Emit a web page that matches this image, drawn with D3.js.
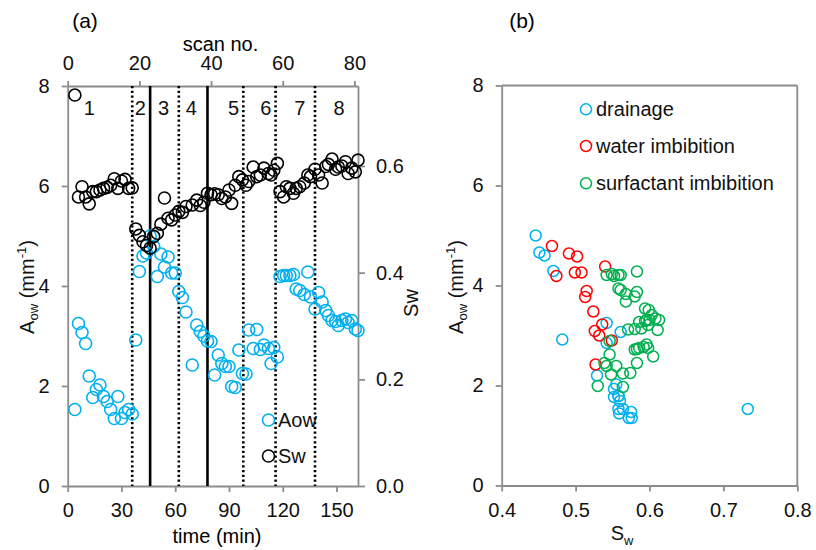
<!DOCTYPE html>
<html>
<head>
<meta charset="utf-8">
<script src="https://cdn.jsdelivr.net/npm/d3@7"></script>
<style>
  body { margin: 0; background: #fff; }
  svg { font-family: "Liberation Sans", Arial, sans-serif; }
</style>
</head>
<body>
<svg id="chart" width="816" height="550"></svg>
<script>
// Per-scan measurements: elapsed time (min), interfacial area A_ow (mm^-1), water saturation Sw
const scanTime = [
  4, 6, 8, 10, 12, 14, 16, 18, 20, 22, 24, 26, 28, 30, 32, 34, 36,
  38, 40, 42, 44, 46,
  48, 50, 52, 54, 56, 58, 60,
  62, 64, 66, 69.5, 72, 74, 76, 78,
  80, 82, 84, 86, 88, 90, 91.5, 93.5, 95.5, 97.5,
  99.5, 101, 103.5, 105.5, 107.5, 109.5, 112, 113.5, 115, 117,
  118.5, 120.5, 122, 124, 126, 127.5, 129.5, 132, 134, 135.5, 138,
  140, 142, 144, 145.5, 147.5, 149.5, 151, 153, 155, 156.5, 158.5, 160.5, 162
];
const aowValues = [
  1.53, 3.25, 3.07, 2.85, 2.20, 1.77, 1.93, 2.02, 1.79, 1.69, 1.53, 1.35, 1.79, 1.35, 1.47, 1.53, 1.44,
  2.92, 4.29, 4.60, 4.66, 5.00,
  4.79, 4.19, 4.64, 4.38, 4.58, 4.26, 4.26,
  3.89, 3.77, 3.48, 2.42, 3.22, 3.09, 3.00, 2.90,
  2.89, 2.22, 2.62, 2.45, 2.39, 2.39, 1.99, 1.97, 2.72, 2.25,
  2.24, 3.12, 2.75, 3.13, 2.73, 2.82, 2.75, 2.45, 2.77, 2.58,
  4.19, 4.21, 4.21, 4.21, 4.23, 3.94, 3.91, 3.83, 4.28, 3.78, 3.54,
  3.87, 3.68, 3.51, 3.41, 3.31, 3.29, 3.21, 3.31, 3.34, 3.27, 3.31, 3.14, 3.11
];
const swValues = [
  0.733, 0.542, 0.561, 0.542, 0.529, 0.552, 0.552, 0.555, 0.558, 0.560, 0.564, 0.576, 0.558, 0.572, 0.575, 0.558, 0.559,
  0.482, 0.470, 0.458, 0.451, 0.446,
  0.468, 0.474, 0.491, 0.540, 0.502, 0.499, 0.508,
  0.515, 0.513, 0.524, 0.527, 0.536, 0.526, 0.532, 0.549,
  0.546, 0.548, 0.546, 0.539, 0.542, 0.555, 0.530, 0.564, 0.580, 0.574,
  0.564, 0.571, 0.598, 0.580, 0.583, 0.596, 0.586, 0.583, 0.592, 0.605,
  0.552, 0.542, 0.561, 0.558, 0.549, 0.558, 0.561, 0.568, 0.583, 0.580, 0.594,
  0.583, 0.568, 0.599, 0.603, 0.613, 0.594, 0.598, 0.600, 0.608, 0.586, 0.596, 0.589, 0.611
];

// Flooding stages: drainage up to 46 min, water imbibition to 78 min, then surfactant imbibition
const phaseEnds = [46, 78, Infinity];
const phaseNames = ["drainage", "water imbibition", "surfactant imbibition"];
const phaseColors = ["#00B0F0", "#FF0000", "#00B050"];

// Stage boundaries (min) and stage numbers
const dottedTimes = [36, 62, 98, 116, 138];
const solidTimes = [46, 78];
const regionLabels = ["1", "2", "3", "4", "5", "6", "7", "8"];
const regionLabelTimes = [12, 40.5, 53.5, 69, 92.5, 110.5, 129.5, 151.5];

// Tick values
const timeTicks = [0, 30, 60, 90, 120, 150];
const scanTicks = [0, 20, 40, 60, 80];
const aowTicks = [0, 2, 4, 6, 8];
const swTicks = [0, 0.2, 0.4, 0.6];
const swScatterTicks = [0.4, 0.5, 0.6, 0.7, 0.8];

const scans = scanTime.map((t, i) => ({
  t, aow: aowValues[i], sw: swValues[i],
  phase: phaseEnds.findIndex(e => t <= e)
}));

const svg = d3.select("#chart");
const axisColor = "#8c8c8c";
const FS = 20;

function styleAxis(g) {
  g.selectAll("path").attr("stroke", axisColor).attr("stroke-width", 1.8);
  g.selectAll("line").attr("stroke", axisColor).attr("stroke-width", 1.8);
  g.selectAll("text").attr("fill", "#111").attr("font-size", FS)
    .attr("font-family", "'Liberation Sans', Arial, sans-serif");
}

// ---------- panel (a): time series ----------
const A = { left: 67.7, right: 358, top: 86, bottom: 486 };
const x = d3.scaleLinear().domain([0, 162]).range([A.left, A.right]);
const xScan = d3.scaleLinear().domain([0, 81]).range([A.left, A.right]);
const yA = d3.scaleLinear().domain([0, 8]).range([A.bottom, A.top]);
const ySw = d3.scaleLinear().domain([0, 0.75]).range([A.bottom, A.top]);

const pa = svg.append("g");

pa.append("g").attr("transform", `translate(0,${A.bottom})`)
  .call(d3.axisBottom(x).tickValues(timeTicks).tickSize(6).tickSizeOuter(0).tickPadding(10.8))
  .call(styleAxis);
pa.append("g").attr("transform", `translate(0,${A.top})`)
  .call(d3.axisTop(xScan).tickValues(scanTicks).tickSize(5).tickSizeOuter(0).tickPadding(11))
  .call(styleAxis);
pa.append("g").attr("transform", `translate(${A.left},0)`)
  .call(d3.axisLeft(yA).tickValues(aowTicks).tickSize(6).tickSizeOuter(0).tickPadding(12))
  .call(styleAxis);
pa.append("g").attr("transform", `translate(${A.right},0)`)
  .call(d3.axisRight(ySw).tickValues(swTicks).tickFormat(d3.format(".1f")).tickSize(7).tickSizeOuter(0).tickPadding(11))
  .call(styleAxis);

// stage boundaries
pa.selectAll("line.dotted").data(dottedTimes).join("line")
  .attr("x1", d => x(d)).attr("x2", d => x(d))
  .attr("y1", A.top).attr("y2", A.bottom)
  .attr("stroke", "#000").attr("stroke-width", 2.6).attr("stroke-dasharray", "2.2,2.6");
pa.selectAll("line.solid").data(solidTimes).join("line")
  .attr("x1", d => x(d)).attr("x2", d => x(d))
  .attr("y1", A.top).attr("y2", A.bottom)
  .attr("stroke", "#000").attr("stroke-width", 2.6);

pa.selectAll("text.region").data(regionLabels).join("text")
  .attr("x", (d, i) => x(regionLabelTimes[i])).attr("y", 115)
  .attr("text-anchor", "middle").attr("font-size", FS).attr("fill", "#111")
  .text(d => d);

// series
pa.append("g").selectAll("circle").data(scans).join("circle")
  .attr("cx", d => x(d.t)).attr("cy", d => yA(d.aow)).attr("r", 6)
  .attr("fill", "none").attr("stroke", "#00B0F0").attr("stroke-width", 1.6);
pa.append("g").selectAll("circle").data(scans).join("circle")
  .attr("cx", d => x(d.t)).attr("cy", d => ySw(d.sw)).attr("r", 6)
  .attr("fill", "none").attr("stroke", "#000").attr("stroke-width", 1.6);

// legend
const legA = [{ name: "Aow", color: "#00B0F0", y: 420 }, { name: "Sw", color: "#000", y: 456 }];
legA.forEach(l => {
  pa.append("circle").attr("cx", 268.5).attr("cy", l.y).attr("r", 6)
    .attr("fill", "none").attr("stroke", l.color).attr("stroke-width", 1.6);
  pa.append("text").attr("x", 278).attr("y", l.y + 7).attr("font-size", FS).attr("fill", "#111").text(l.name);
});

// titles
pa.append("text").attr("x", 85).attr("y", 28).attr("text-anchor", "middle").attr("font-size", 21).text("(a)");
pa.append("text").attr("x", 220.5).attr("y", 51).attr("text-anchor", "middle").attr("font-size", FS).text("scan no.");
pa.append("text").attr("x", 217).attr("y", 543).attr("text-anchor", "middle").attr("font-size", FS).text("time (min)");

function aowTitle(g, bx, cy) {
  const t = g.append("text").attr("transform", `translate(${bx},${cy}) rotate(-90)`)
    .attr("text-anchor", "middle").attr("font-size", FS).attr("fill", "#111");
  t.append("tspan").text("A");
  t.append("tspan").attr("font-size", 13).attr("dy", 4).text("ow");
  t.append("tspan").attr("dy", -4).text(" (mm");
  t.append("tspan").attr("font-size", 13).attr("dy", -8).text("-1");
  t.append("tspan").attr("dy", 8).text(")");
}
aowTitle(pa, 33.5, 287);
pa.append("text").attr("transform", `translate(418,303) rotate(-90)`)
  .attr("text-anchor", "middle").attr("font-size", FS).attr("fill", "#111").text("Sw");

// ---------- panel (b): A_ow versus Sw ----------
const B = { left: 501.7, right: 797.3, top: 85.5, bottom: 485.5 };
const xs = d3.scaleLinear().domain([0.4, 0.8]).range([B.left, B.right]);
const yb = d3.scaleLinear().domain([0, 8]).range([B.bottom, B.top]);
const pb = svg.append("g");

pb.append("line").attr("x1", B.left).attr("x2", B.right).attr("y1", B.top).attr("y2", B.top)
  .attr("stroke", axisColor).attr("stroke-width", 1.8);
pb.append("line").attr("x1", B.right).attr("x2", B.right).attr("y1", B.top).attr("y2", B.bottom)
  .attr("stroke", axisColor).attr("stroke-width", 1.8);
pb.append("g").attr("transform", `translate(0,${B.bottom})`)
  .call(d3.axisBottom(xs).tickValues(swScatterTicks).tickFormat(d3.format(".1f")).tickSize(6).tickSizeOuter(0).tickPadding(10.8))
  .call(styleAxis);
pb.append("g").attr("transform", `translate(${B.left},0)`)
  .call(d3.axisLeft(yb).tickValues(aowTicks).tickSize(6).tickSizeOuter(0).tickPadding(12.2))
  .call(styleAxis);

phaseNames.forEach((name, p) => {
  pb.append("g").selectAll("circle").data(scans.filter(d => d.phase === p)).join("circle")
    .attr("cx", d => xs(d.sw)).attr("cy", d => yb(d.aow)).attr("r", 5.5)
    .attr("fill", "none").attr("stroke", phaseColors[p]).attr("stroke-width", 1.5);
});

const legY = [109.3, 146, 183.3];
phaseNames.forEach((name, p) => {
  pb.append("circle").attr("cx", 586).attr("cy", legY[p]).attr("r", 5.5)
    .attr("fill", "none").attr("stroke", phaseColors[p]).attr("stroke-width", 1.5);
  pb.append("text").attr("x", 596).attr("y", legY[p] + 7).attr("font-size", FS).attr("fill", "#111").text(name);
});

pb.append("text").attr("x", 522).attr("y", 28).attr("text-anchor", "middle").attr("font-size", 21).text("(b)");
const sx = pb.append("text").attr("x", 622).attr("y", 540).attr("text-anchor", "middle").attr("font-size", FS).attr("fill", "#111");
sx.append("tspan").text("S");
sx.append("tspan").attr("font-size", 13).attr("dy", 5).text("w");
aowTitle(pb, 463, 287);
</script>
</body>
</html>
